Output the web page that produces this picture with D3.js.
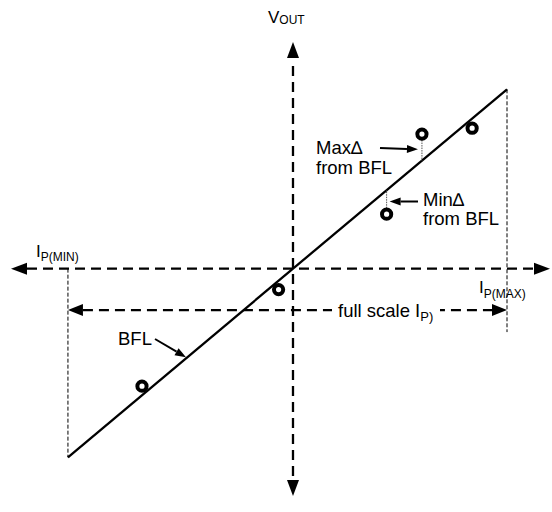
<!DOCTYPE html>
<html><head><meta charset="utf-8">
<script src="https://cdn.jsdelivr.net/npm/d3@7"></script>
<style>body{margin:0;background:#fff}</style>
</head><body><svg id="c" width="552" height="512"></svg>
<script>
// ---- data (arbitrary units, origin at axis crossing) ----
const axisIpExtent = [-125.3, 114.2];   // horizontal axis arrow tips
const axisVExtent = [-101, 100.7];      // vertical axis arrow tips
const ipMin = -100;                     // I_P(MIN)
const ipMax = 95.1;                     // I_P(MAX)
const bflSlope = 0.838;                 // best fit line slope
const sampleIp = [-67.1, -6.4, 41.6, 57.3, 79.6];
const sampleV  = [-52.2, -9.3, 24.2, 59.8, 62.4];
const maxDeltaIndex = 3;
const minDeltaIndex = 2;
const fullScaleLevel = -18.4;
const labelVout = ["V", "OUT"];
const labelIpMin = ["I", "P(MIN)"];
const labelIpMax = ["I", "P(MAX)"];
const labelFullScale = ["full scale I", "P)"];
const labelMax = ["Max\u2206", "from BFL"];
const labelMin = ["Min\u2206", "from BFL"];
const labelBfl = "BFL";

const svg = d3.select("#c");
const x = d3.scaleLinear().domain(axisIpExtent).range([11, 550]);
const y = d3.scaleLinear().domain(axisVExtent).range([496, 42]);
const FONT = "'Liberation Sans', Arial, Helvetica, sans-serif";

function arrowHead(x1, y1, x2, y2, len, wid) {
  const a = Math.atan2(y2 - y1, x2 - x1);
  const bx = x2 - len * Math.cos(a), by = y2 - len * Math.sin(a);
  const px = -Math.sin(a) * wid / 2, py = Math.cos(a) * wid / 2;
  svg.append("path")
    .attr("d", `M${x2},${y2}L${bx + px},${by + py}L${bx - px},${by - py}Z`)
    .attr("fill", "#000");
  return [bx, by];
}
function line(x1, y1, x2, y2, w, dash, color) {
  svg.append("line").attr("x1", x1).attr("y1", y1).attr("x2", x2).attr("y2", y2)
    .attr("stroke", color || "#000").attr("stroke-width", w)
    .attr("stroke-dasharray", dash || null);
}
function subText(tx, ty, parts, size, subSize, dy) {
  const t = svg.append("text").attr("x", tx).attr("y", ty)
    .attr("font-family", FONT).attr("font-size", size).attr("fill", "#000");
  t.append("tspan").text(parts[0]);
  t.append("tspan").attr("font-size", subSize).attr("dy", dy).text(parts[1]);
  return t;
}

const x0 = x(0), y0 = y(0);

// thin dashed verticals at IP(MIN) and IP(MAX)
line(x(ipMin), y0, x(ipMin), y(bflSlope * ipMin), 1, "4,2");
line(x(ipMax), y(bflSlope * ipMax), x(ipMax), y(fullScaleLevel) + 22, 1, "4,2");

// horizontal axis (double arrow)
{
  const L = 16, Wd = 12;
  const [lb] = arrowHead(x(axisIpExtent[1]) - 1, y0, x(axisIpExtent[0]), y0, L, Wd);
  const [rb] = arrowHead(x(axisIpExtent[0]) + 1, y0, x(axisIpExtent[1]), y0, L, Wd);
  line(lb, y0, rb, y0, 2.3, "10,6");
}
// vertical axis
{
  const L = 16, Wd = 12;
  const [, tb] = arrowHead(x0, y(axisVExtent[0]), x0, y(axisVExtent[1]), L, Wd);
  const [, bb] = arrowHead(x0, y(axisVExtent[1]), x0, y(axisVExtent[0]), L, Wd);
  line(x0, tb + 8, x0, bb, 2.3, "10,6");
}
// full scale arrow
{
  const fy = y(fullScaleLevel);
  const [lb] = arrowHead(x(ipMax), fy, x(ipMin), fy, 15, 12);
  const [rb] = arrowHead(x(ipMin), fy, x(ipMax), fy, 15, 12);
  line(lb, fy, rb, fy, 2.3, "10,6");
  svg.append("rect").attr("x", 332).attr("y", fy - 15).attr("width", 108).attr("height", 28).attr("fill", "#fff");
  subText(338, fy + 7, labelFullScale, 18.5, 13, 4);
}

// best fit line
line(x(ipMin), y(bflSlope * ipMin), x(ipMax), y(bflSlope * ipMax), 2.3);

// delta connectors (gray dotted)
[maxDeltaIndex, minDeltaIndex].forEach(i => {
  const cx = x(sampleIp[i]);
  const cy = y(sampleV[i]);
  const ly = y(bflSlope * sampleIp[i]);
  const dir = Math.sign(ly - cy);
  line(cx, cy + dir * 6, cx, ly, 1, "1.5,1", "#555");
});

// sample markers
svg.selectAll("circle.s").data(sampleIp.map((d, i) => [d, sampleV[i]])).enter()
  .append("circle").attr("class", "s")
  .attr("cx", d => x(d[0])).attr("cy", d => y(d[1])).attr("r", 4.6)
  .attr("fill", "#fff").attr("stroke", "#000").attr("stroke-width", 4);

// axis labels
subText(268, 23, labelVout, 17, 12, 1);
subText(36, 257, labelIpMin, 17, 12, 4);
subText(479, 293, labelIpMax, 17, 12, 5);

// annotations
function annot(lines, tx, ty, size, gap) {
  const t = svg.append("text").attr("font-family", FONT).attr("font-size", size).attr("fill", "#000");
  lines.forEach((s, k) => t.append("tspan").attr("x", tx).attr("y", ty + k * gap).text(s));
}
annot(labelMax, 316, 154, 18.5, 20);
{
  const mx = x(sampleIp[maxDeltaIndex]);
  const my = (y(sampleV[maxDeltaIndex]) + y(bflSlope * sampleIp[maxDeltaIndex])) / 2;
  const [bx, by] = arrowHead(380, 148, mx - 4, my + 2, 11, 8);
  line(380, 148, bx, by, 2);
}
annot(labelMin, 423, 206, 18.5, 19);
{
  const mx = x(sampleIp[minDeltaIndex]);
  const my = 201.5;
  const [bx, by] = arrowHead(418, my, mx + 3, my, 11, 8);
  line(418, my, bx, by, 2);
}
annot([labelBfl], 118, 345, 18.5, 0);
{
  const ax = 186;
  const [bx, by] = arrowHead(155, 339, ax, y(bflSlope * x.invert(ax)) - 1, 11, 8);
  line(155, 339, bx, by, 2);
}
</script></body></html>
